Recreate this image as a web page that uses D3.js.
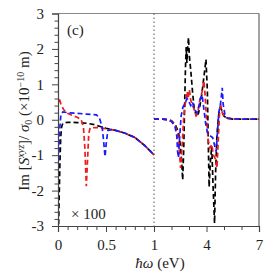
<!DOCTYPE html>
<html><head><meta charset="utf-8">
<script src="https://cdn.jsdelivr.net/npm/d3@7"></script>
<style>body{margin:0;background:#fff}svg{display:block}svg text{font-family:"Liberation Serif","Times New Roman",serif}</style>
</head><body>
<script>
// ---- data (left panel values are x100, E in eV) ----
const blackLow = [[0.003,-3.4],[0.012,-2.2],[0.02,-1.2],[0.028,-0.5],[0.038,-0.2],[0.05,-0.1],[0.1,-0.07],[0.2,-0.08],[0.3,-0.1],[0.38,-0.14],[0.44,-0.19],[0.5,-0.24],[0.6,-0.3],[0.7,-0.38],[0.8,-0.5],[0.9,-0.72],[1.0,-0.99]];
const redLow = [[0.0,0.45],[0.01,0.62],[0.03,0.45],[0.06,0.28],[0.1,0.18],[0.15,0.12],[0.2,0.07],[0.24,0.01],[0.265,-0.2],[0.28,-0.8],[0.295,-1.88],[0.31,-1.0],[0.32,-0.4],[0.335,-0.23],[0.4,-0.22],[0.5,-0.25],[0.6,-0.3],[0.7,-0.38],[0.8,-0.5],[0.9,-0.72],[1.0,-0.99]];
const blueLow = [[0.0,-1.6],[0.01,-1.0],[0.02,-0.2],[0.03,0.15],[0.05,0.22],[0.1,0.2],[0.2,0.18],[0.3,0.16],[0.4,0.14],[0.43,0.06],[0.46,-0.2],[0.475,-0.6],[0.49,-1.04],[0.505,-0.6],[0.52,-0.3],[0.56,-0.28],[0.6,-0.3],[0.7,-0.38],[0.8,-0.5],[0.9,-0.72],[1.0,-0.99]];
const blackHigh = [[1,0.02],[1.5,0.02],[1.8,0.0],[2.0,-0.03],[2.2,-0.12],[2.4,-0.35],[2.5,-0.7],[2.58,-1.2],[2.64,-1.7],[2.7,-0.8],[2.75,0.4],[2.8,1.5],[2.84,2.05],[2.88,1.6],[2.92,2.0],[2.97,2.32],[3.02,1.8],[3.1,1.4],[3.2,0.8],[3.3,0.3],[3.45,0.08],[3.55,0.2],[3.7,0.6],[3.85,1.2],[3.97,1.7],[4.05,0.8],[4.1,-0.6],[4.15,-1.9],[4.22,-1.2],[4.3,-0.75],[4.37,-1.8],[4.46,-2.92],[4.52,-1.5],[4.6,-0.4],[4.7,0.15],[4.78,0.35],[4.85,0.3],[5.0,0.1],[5.2,0.04],[5.5,0.02],[7,0.02]];
const redHigh = [[1,0.02],[1.5,0.02],[1.8,0.0],[2.0,-0.03],[2.2,-0.15],[2.35,-0.4],[2.45,-0.9],[2.52,-1.36],[2.6,-0.8],[2.7,0.1],[2.8,0.5],[2.9,0.8],[2.95,0.6],[3.02,0.85],[3.1,0.55],[3.25,0.35],[3.4,0.12],[3.5,0.2],[3.6,0.5],[3.75,0.8],[3.85,1.1],[3.92,0.7],[4.0,0.0],[4.1,-0.6],[4.2,-0.8],[4.3,-0.7],[4.4,-1.0],[4.5,-1.1],[4.6,-1.36],[4.68,-0.5],[4.75,0.25],[4.83,0.37],[4.9,0.2],[5.0,0.1],[5.2,0.04],[5.5,0.02],[7,0.02]];
const blueHigh = [[1,0.02],[1.5,0.02],[1.8,0.0],[2.0,-0.05],[2.2,-0.2],[2.3,-0.45],[2.35,-0.9],[2.4,-1.07],[2.45,-0.6],[2.55,0.1],[2.65,0.35],[2.75,0.45],[2.9,0.6],[3.0,0.5],[3.1,0.4],[3.2,0.5],[3.3,0.3],[3.45,0.2],[3.55,0.35],[3.65,0.6],[3.75,0.7],[3.85,0.3],[3.95,-0.1],[4.05,-0.35],[4.2,-0.45],[4.35,-0.5],[4.45,-0.7],[4.55,-0.9],[4.62,-0.4],[4.7,0.2],[4.8,0.45],[4.9,0.9],[4.95,0.45],[5.05,0.15],[5.2,0.05],[5.5,0.03],[6,0.02],[7,0.02]];
const yMajor = [-3,-2,-1,0,1,2,3];
const yMinor = d3.range(-3,3.001,0.2).map(v=>+v.toFixed(1)).filter(v=>!yMajor.includes(v));
const xMajor = [0,0.5,1,4,7];
const xMajorLabels = ["0","0.5","1","4","7"];
const xMinor = [0.1,0.2,0.3,0.4,0.6,0.7,0.8,0.9,2,3,5,6];
const series = [
  {name:"black", color:"#000000", low:blackLow, high:blackHigh},
  {name:"red", color:"#ee1c1c", low:redLow, high:redHigh},
  {name:"blue", color:"#1a1aff", low:blueLow, high:blueHigh}
];

const W=276,H=276;
const L=58,R=259,T=13.5,B=226;
const x = d3.scaleLinear().domain([0,1,7]).range([L,154,R]);
const y = d3.scaleLinear().domain([-3,3]).range([B,T]);
const SERIF = '"Liberation Serif","Times New Roman",serif';
const svg = d3.select("body").append("svg").attr("width",W).attr("height",H);

svg.append("defs").append("clipPath").attr("id","clip")
  .append("rect").attr("x",L).attr("y",T).attr("width",R-L).attr("height",B-T);

// frame top/right
svg.append("line").attr("x1",L).attr("x2",R).attr("y1",T).attr("y2",T).attr("stroke","#888").attr("stroke-width",1.2);
svg.append("line").attr("x1",R).attr("x2",R).attr("y1",T).attr("y2",B).attr("stroke","#666").attr("stroke-width",1.2);

// dotted separator
svg.append("line").attr("x1",x(1)).attr("x2",x(1)).attr("y1",T).attr("y2",B)
  .attr("stroke","#555").attr("stroke-width",1).attr("stroke-dasharray","1.5,2.5");

// curves
const line = d3.line().x(d=>x(d[0])).y(d=>y(d[1]));
const g = svg.append("g").attr("clip-path","url(#clip)");
series.forEach(s=>{
  [s.low,s.high].forEach(arr=>{
    g.append("path").attr("d",line(arr)).attr("fill","none")
      .attr("stroke",s.color).attr("stroke-width",1.7).attr("stroke-dasharray","5,3");
  });
});

// axes
const fs = 15;
svg.append("g").attr("transform",`translate(${L},0)`)
  .call(d3.axisLeft(y).tickValues(yMajor).tickSize(6).tickPadding(8).tickFormat(d=>d<0?"-"+Math.abs(d):String(d)));
svg.append("g").attr("transform",`translate(${L},0)`)
  .call(d3.axisLeft(y).tickValues(yMinor).tickSize(3.5).tickFormat(""))
  .select(".domain").remove();
svg.append("g").attr("transform",`translate(0,${B})`)
  .call(d3.axisBottom(x).tickValues(xMajor).tickSize(6).tickPadding(7).tickFormat((d,i)=>xMajorLabels[i]));
svg.append("g").attr("transform",`translate(0,${B})`)
  .call(d3.axisBottom(x).tickValues(xMinor).tickSize(4).tickFormat(""))
  .select(".domain").remove();
svg.selectAll("g").attr("font-family",SERIF);
svg.selectAll(".domain").attr("stroke","#444").attr("stroke-width",1.2);
svg.selectAll(".tick line").attr("stroke","#444");
svg.selectAll(".tick text").attr("font-size",fs).attr("fill","#222");

// annotations
svg.append("text").attr("x",67).attr("y",35).attr("font-size",fs).attr("fill","#222").text("(c)");
svg.append("text").attr("x",71).attr("y",219).attr("font-size",fs).attr("fill","#222").text("× 100");

// x label
const xl = svg.append("text").attr("x",160).attr("y",268).attr("text-anchor","middle").attr("font-size",fs).attr("fill","#222");
xl.append("tspan").attr("font-style","italic").text("ħω");
xl.append("tspan").text(" (eV)");

// y label
const yl = svg.append("text").attr("transform","translate(29,121) rotate(-90)")
  .attr("text-anchor","middle").attr("font-size",fs).attr("fill","#222");
yl.append("tspan").text("Im [");
yl.append("tspan").attr("font-style","italic").text("S");
yl.append("tspan").attr("font-style","italic").attr("font-size",10).attr("dy",-5).text("xyz");
yl.append("tspan").attr("dy",5).text("]/ ");
yl.append("tspan").attr("font-style","italic").text("σ");
yl.append("tspan").attr("font-size",10).attr("dy",3).text("0");
yl.append("tspan").attr("dy",-3).text(" (×10");
yl.append("tspan").attr("font-size",10).attr("dy",-5).text("−10");
yl.append("tspan").attr("dy",5).text(" m)");
</script>
</body></html>
